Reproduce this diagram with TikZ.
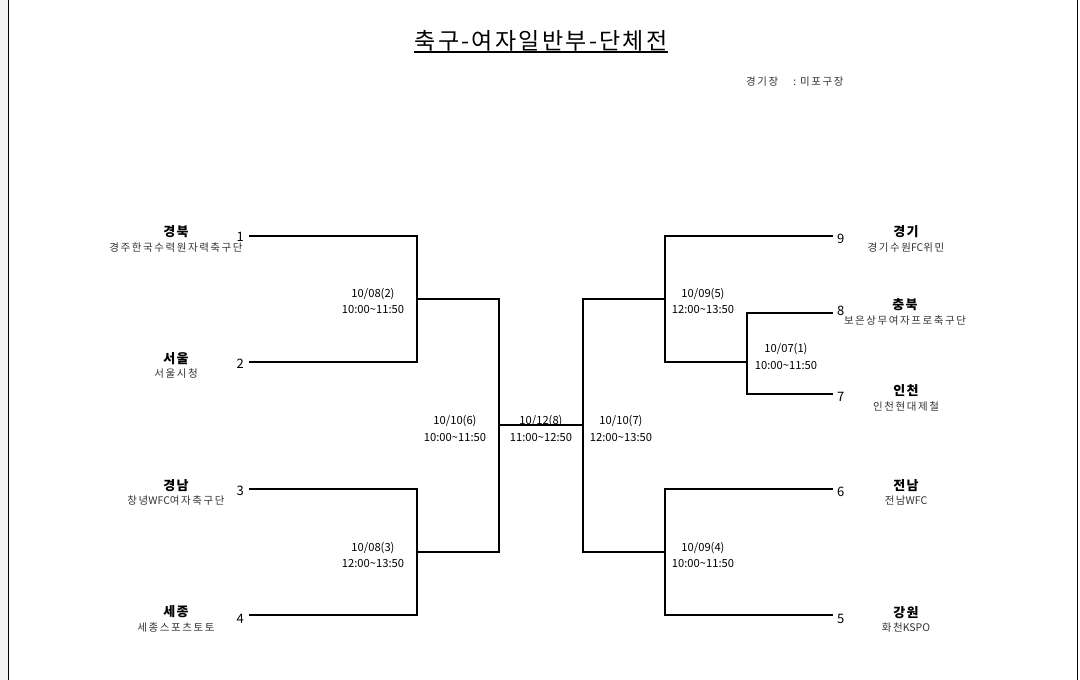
\documentclass[tikz,border=0pt]{standalone}
\usepackage{fontspec}
\setmainfont{Noto Sans CJK KR}
\usepackage{tikz}

\begin{document}
\begin{tikzpicture}[x=1pt, y=-1pt]
      % Define line width and font sizes
      \def\linew{1.9pt}
      \def\titlesize{\fontsize{23}{27}\selectfont\addfontfeature{LetterSpace=10}}
      \def\teamsize{\fontsize{13}{14.5}\selectfont\addfontfeature{LetterSpace=10}}
      \def\subsize{\fontsize{10.5}{14.5}\selectfont\addfontfeature{LetterSpace=15}}
      \def\datesize{\fontsize{11.2}{16.5}\selectfont}
      \def\seedsize{\fontsize{13}{15}\selectfont}
      % Latin letters inside spaced Korean text
      \def\latin#1{{\addfontfeature{LetterSpace=0}#1}}

      % Define colors
      \definecolor{pagemargin}{RGB}{244,244,244}
      \definecolor{subtext}{RGB}{50,50,50}

      \tikzset{
        bracket/.style={line width=\linew, line cap=rect},
        seedl/.style={font=\seedsize, anchor=east, inner sep=0pt},
        seedr/.style={font=\seedsize, anchor=west, inner sep=0pt},
        team/.style={font=\teamsize\bfseries, align=center, inner sep=0pt},
        match/.style={font=\datesize, align=center, inner sep=0pt}
      }

      % Page frame
      \useasboundingbox (0,0) rectangle (1080,680);
      \fill[pagemargin] (0,0) rectangle (8,680);
      \draw[line width=1.2pt] (8.6,0) -- (8.6,680);
      \draw[line width=1.2pt] (1077.4,0) -- (1077.4,680);

      % Title
      \node[inner sep=0pt, font=\titlesize] (T) at (541,40.5) {축구-여자일반부-단체전};
      \draw[line width=2pt] ([yshift=-1pt]T.south west) -- ([yshift=-1pt]T.south east);
      \node[inner sep=0pt, anchor=west, font=\subsize, text=subtext] (V) at (746,82) {경기장\hspace{15pt}:\hspace{4pt}미포구장};

      % Seed ends
      \coordinate (S1) at (250,236);
      \coordinate (S2) at (250,362);
      \coordinate (S3) at (250,489);
      \coordinate (S4) at (250,615);
      \coordinate (S9) at (832,236);
      \coordinate (S8) at (832,313);
      \coordinate (S7) at (832,394);
      \coordinate (S6) at (832,489);
      \coordinate (S5) at (832,615);

      % Match joints
      \coordinate (M2) at (417,299);
      \coordinate (M3) at (417,552);
      \coordinate (M6) at (499,425);
      \coordinate (M7) at (583,425);
      \coordinate (M5) at (665,299);
      \coordinate (M4) at (665,552);
      \coordinate (M1) at (747,362);

      % Left bracket
      \draw[bracket] (S1) -| (M2) |- (S2);
      \draw[bracket] (S3) -| (M3) |- (S4);
      \draw[bracket] (M2) -| (M6) |- (M3);

      % Final
      \draw[bracket] (M6) -- (M7);

      % Right bracket
      \draw[bracket] (S8) -| (M1) |- (S7);
      \draw[bracket] (S9) -| (M5);
      \draw[bracket] (M1) -| (M5);
      \draw[bracket] (S6) -| (M4) |- (S5);
      \draw[bracket] (M5) -| (M7) |- (M4);

      % Seed numbers
      \node[seedl] (N1) at (244,237) {1};
      \node[seedl] (N2) at (244,363.5) {2};
      \node[seedl] (N3) at (244,491) {3};
      \node[seedl] (N4) at (244,618.5) {4};
      \node[seedr] (N9) at (837,238.5) {9};
      \node[seedr] (N8) at (837,310.5) {8};
      \node[seedr] (N7) at (837,397) {7};
      \node[seedr] (N6) at (837,492) {6};
      \node[seedr] (N5) at (837,618.5) {5};

      % Teams
      \node[team] (K1) at (176,239) {경북\\{\subsize\mdseries\color{subtext}경주한국수력원자력축구단}};
      \node[team] (K2) at (176,365.5) {서울\\{\subsize\mdseries\color{subtext}서울시청}};
      \node[team] (K3) at (176,492.5) {경남\\{\subsize\mdseries\color{subtext}창녕\latin{WFC}여자축구단}};
      \node[team] (K4) at (176,619) {세종\\{\subsize\mdseries\color{subtext}세종스포츠토토}};
      \node[team] (K9) at (906,239) {경기\\{\subsize\mdseries\color{subtext}경기수원\latin{FC}위민}};
      \node[team] (K8) at (905,312) {충북\\{\subsize\mdseries\color{subtext}보은상무여자프로축구단}};
      \node[team] (K7) at (906,398) {인천\\{\subsize\mdseries\color{subtext}인천현대제철}};
      \node[team] (K6) at (906,492.5) {전남\\{\subsize\mdseries\color{subtext}전남\latin{WFC}}};
      \node[team] (K5) at (906,619.5) {강원\\{\subsize\mdseries\color{subtext}화천\latin{KSPO}}};

      % Match dates
      \node[match] (D2) at (373,301) {10/08(2)\\10:00\textasciitilde11:50};
      \node[match] (D3) at (373,555) {10/08(3)\\12:00\textasciitilde13:50};
      \node[match] (D6) at (455,428.5) {10/10(6)\\10:00\textasciitilde11:50};
      \node[match] (D8) at (541,428.5) {10/12(8)\\11:00\textasciitilde12:50};
      \node[match] (D7) at (621,428.5) {10/10(7)\\12:00\textasciitilde13:50};
      \node[match] (D5) at (703,301) {10/09(5)\\12:00\textasciitilde13:50};
      \node[match] (D4) at (703,555) {10/09(4)\\10:00\textasciitilde11:50};
      \node[match] (D1) at (786,356.5) {10/07(1)\\10:00\textasciitilde11:50};

    \end{tikzpicture}
\end{document}
